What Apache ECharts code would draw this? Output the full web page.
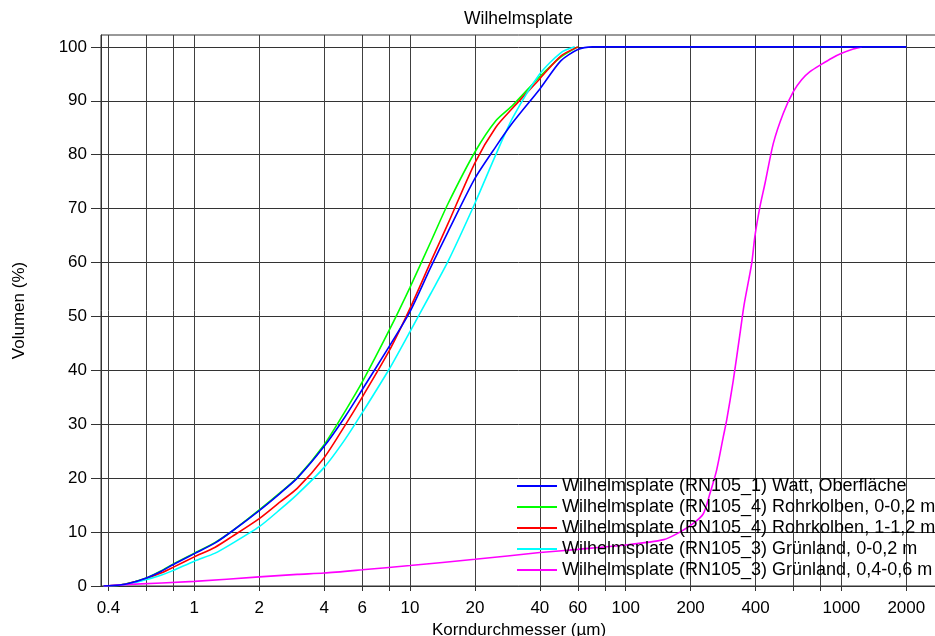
<!DOCTYPE html>
<html>
<head>
<meta charset="utf-8">
<script src="https://cdn.jsdelivr.net/npm/echarts@6/dist/echarts.min.js"></script>
<style>
  html, body { margin: 0; padding: 0; background: #fff; }
  #chart { width: 935px; height: 636px; }
</style>
</head>
<body>
<div id="chart"></div>
<script>
// Cumulative grain-size curves: [diameter in µm, cumulative volume in %]
const seriesNames = [
  'Wilhelmsplate (RN105_1) Watt, Oberfläche',
  'Wilhelmsplate (RN105_4) Rohrkolben, 0-0,2 m',
  'Wilhelmsplate (RN105_4) Rohrkolben, 1-1,2 m',
  'Wilhelmsplate (RN105_3) Grünland, 0-0,2 m',
  'Wilhelmsplate (RN105_3) Grünland, 0,4-0,6 m'
];
const seriesColors = ['#0000ff', '#00ff00', '#ff0000', '#00ffff', '#ff00ff'];

const wattOberflaeche = [
  [0.38, 0], [0.45, 0.2], [0.5, 0.5], [0.6, 1.5], [0.7, 2.7], [0.8, 4.0], [1, 6.0],
  [1.25, 8.0], [1.5, 10.2], [2, 14.0], [2.5, 17.2], [3, 20.0], [4, 25.9], [5, 31.4],
  [6, 36.4], [8, 44.4], [10, 50.9], [12.5, 59.2], [15, 65.7], [20, 75.6], [25, 81.5],
  [30, 86.0], [40, 92.2], [50, 97.4], [60, 99.5], [70, 100], [2000, 100]
];
const rohrkolbenOben = [
  [0.38, 0], [0.45, 0.2], [0.5, 0.55], [0.6, 1.5], [0.7, 2.8], [0.8, 4.1], [1, 6.1],
  [1.25, 8.1], [1.5, 10.2], [2, 14.1], [2.5, 17.3], [3, 20.1], [4, 26.2], [5, 32.4],
  [6, 37.8], [8, 47.4], [10, 55.4], [12.5, 63.9], [15, 70.9], [20, 80.5], [25, 86.3],
  [30, 89.2], [40, 94.5], [50, 98.1], [60, 100]
];
const rohrkolbenTief = [
  [0.38, 0], [0.45, 0.2], [0.5, 0.5], [0.6, 1.4], [0.7, 2.4], [0.8, 3.5], [1, 5.4],
  [1.25, 7.2], [1.5, 9.2], [2, 12.5], [2.5, 15.6], [3, 18.1], [4, 23.8], [5, 29.8],
  [6, 35.0], [8, 43.6], [10, 51.5], [12.5, 60.2], [15, 67.2], [20, 78.5], [25, 85.1],
  [30, 88.7], [40, 94.1], [50, 98.3], [60, 100]
];
const gruenlandOben = [
  [0.38, 0], [0.45, 0.15], [0.5, 0.4], [0.6, 1.2], [0.7, 2.0], [0.8, 2.9], [1, 4.6],
  [1.25, 6.1], [1.5, 7.9], [2, 11.0], [2.5, 14.2], [3, 17.0], [4, 22.0], [5, 27.2],
  [6, 32.1], [8, 40.2], [10, 47.2], [12.5, 54.3], [15, 60.2], [20, 71.0], [25, 80.0],
  [30, 86.9], [40, 95.0], [50, 98.9], [58, 100]
];
const gruenlandTief = [
  [0.38, 0], [0.5, 0.3], [1, 0.85], [2, 1.7], [3, 2.15], [4, 2.4], [6, 3.0],
  [10, 3.8], [20, 4.95], [40, 6.2], [60, 6.8], [100, 7.6], [150, 8.6],
  [176.7, 9.9], [205.8, 11.6], [229, 13.4], [246, 17.2], [264, 21.5],
  [283.5, 27.7], [294, 30.8], [315.5, 38.2], [339, 46.9], [354, 52.2],
  [383.7, 59.8], [397, 64.8], [419.5, 70.4], [442.6, 74.7], [483.5, 82.1],
  [538, 87.7], [598.7, 91.7], [654, 93.9], [715, 95.4], [810.6, 96.8],
  [902, 97.9], [1003, 98.8], [1135, 99.6], [1242, 100]
];
const seriesData = [wattOberflaeche, rohrkolbenOben, rohrkolbenTief, gruenlandOben, gruenlandTief];

// Axis ticks
const xGridValues = [0.4, 0.6, 0.8, 1, 2, 4, 6, 8, 10, 20, 40, 60, 80, 100, 200, 400, 600, 800, 1000, 2000];
const xLabelValues = [0.4, 1, 2, 4, 6, 10, 20, 40, 60, 100, 200, 400, 1000, 2000];
const yTickValues = [0, 10, 20, 30, 40, 50, 60, 70, 80, 90, 100];

const FONT = '"Liberation Sans", Arial, sans-serif';
const chart = echarts.init(document.getElementById('chart'), null, { renderer: 'canvas' });

chart.setOption({
  animation: false,
  backgroundColor: '#ffffff',
  title: {
    text: 'Wilhelmsplate',
    left: 464,
    top: 10,
    padding: 0,
    textStyle: { fontFamily: FONT, fontSize: 17.5, fontWeight: 'normal', color: '#000' }
  },
  grid: {
    left: 101, top: 35, right: -2, bottom: 50,
    outerBoundsMode: 'none',
    containLabel: false,
    show: true, borderColor: '#333', borderWidth: 1, backgroundColor: 'transparent'
  },
  legend: {
    orient: 'vertical',
    left: 517,
    top: 477,
    padding: 0,
    itemWidth: 40,
    itemHeight: 2,
    itemGap: 3,
    icon: 'rect',
    data: seriesNames,
    textStyle: { fontFamily: FONT, fontSize: 18, color: '#000', lineHeight: 18 }
  },
  xAxis: {
    type: 'log',
    logBase: 10,
    min: 0.36929,
    max: 2775,
    name: 'Korndurchmesser (µm)',
    nameLocation: 'middle',
    nameGap: 35,
    nameTextStyle: { fontFamily: FONT, fontSize: 17, color: '#000' },
    axisLine: { show: true, onZero: false, lineStyle: { color: '#333', width: 1 } },
    axisTick: { show: true, length: 5, customValues: xGridValues, lineStyle: { color: '#333' } },
    axisLabel: {
      customValues: xLabelValues,
      margin: 14,
      fontFamily: FONT, fontSize: 17, color: '#000',
      formatter: v => String(+(+v).toPrecision(6))
    },
    splitLine: { show: true, lineStyle: { color: '#404040', width: 1 } },
    minorSplitLine: { show: false }
  },
  yAxis: {
    type: 'value',
    min: 0,
    max: 102.2,
    name: 'Volumen (%)',
    nameLocation: 'middle',
    nameGap: 73,
    nameRotate: 90,
    nameTextStyle: { fontFamily: FONT, fontSize: 17, color: '#000' },
    axisLine: { show: true, lineStyle: { color: '#333', width: 1 } },
    axisTick: { show: true, length: 10, customValues: yTickValues, lineStyle: { color: '#333' } },
    axisLabel: {
      customValues: yTickValues,
      margin: 14,
      fontFamily: FONT, fontSize: 17, color: '#000'
    },
    splitLine: { show: true, lineStyle: { color: '#333', width: 1 } }
  },
  series: seriesData.map((data, i) => ({
    name: seriesNames[i],
    type: 'line',
    data: data,
    showSymbol: false,
    symbol: 'none',
    smooth: 0.25,
    z: i === 0 ? 4 : 3,
    color: seriesColors[i],
    lineStyle: { color: seriesColors[i], width: 1.6 }
  }))
});
</script>
</body>
</html>
